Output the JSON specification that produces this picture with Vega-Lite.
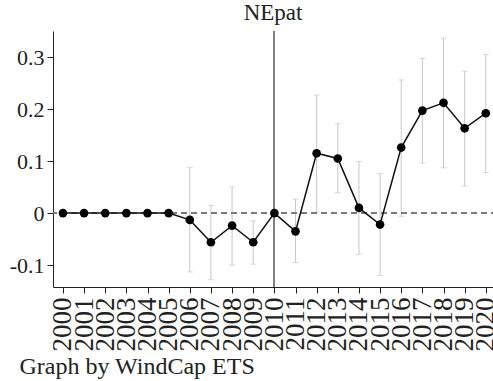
{
  "$schema": "https://vega.github.io/schema/vega-lite/v6.json",
  "width": 444,
  "height": 256,
  "padding": {"left": 53, "top": 31, "right": 0, "bottom": 94},
  "autosize": {"type": "none"},
  "background": "white",
  "config": {
    "view": {"stroke": null},
    "font": "Times New Roman, Liberation Serif, serif",
    "axis": {"grid": false, "domainColor": "#222", "tickColor": "#222", "labelColor": "#222", "labelFont": "Times New Roman, Liberation Serif, serif", "titleFont": "Times New Roman, Liberation Serif, serif"}
  },
  "title": {"text": "NEpat", "font": "Times New Roman, Liberation Serif, serif", "fontSize": 23, "fontWeight": "normal", "color": "#222", "anchor": "middle", "offset": 5, "dx": -2},
  "data": {"values": [
    {"year": 2000, "b": 0, "lo": null, "hi": null},
    {"year": 2001, "b": 0, "lo": null, "hi": null},
    {"year": 2002, "b": 0, "lo": null, "hi": null},
    {"year": 2003, "b": 0, "lo": null, "hi": null},
    {"year": 2004, "b": 0, "lo": null, "hi": null},
    {"year": 2005, "b": 0, "lo": null, "hi": null},
    {"year": 2006, "b": -0.013, "lo": -0.113, "hi": 0.088},
    {"year": 2007, "b": -0.056, "lo": -0.128, "hi": 0.015},
    {"year": 2008, "b": -0.024, "lo": -0.1, "hi": 0.05},
    {"year": 2009, "b": -0.056, "lo": -0.098, "hi": -0.015},
    {"year": 2010, "b": 0, "lo": null, "hi": null},
    {"year": 2011, "b": -0.035, "lo": -0.095, "hi": 0.027},
    {"year": 2012, "b": 0.115, "lo": 0.002, "hi": 0.227},
    {"year": 2013, "b": 0.105, "lo": 0.039, "hi": 0.172},
    {"year": 2014, "b": 0.01, "lo": -0.079, "hi": 0.099},
    {"year": 2015, "b": -0.022, "lo": -0.12, "hi": 0.076},
    {"year": 2016, "b": 0.126, "lo": -0.006, "hi": 0.256},
    {"year": 2017, "b": 0.197, "lo": 0.096, "hi": 0.297},
    {"year": 2018, "b": 0.212, "lo": 0.087, "hi": 0.336},
    {"year": 2019, "b": 0.163, "lo": 0.052, "hi": 0.273},
    {"year": 2020, "b": 0.192, "lo": 0.078, "hi": 0.305}
  ]},
  "encoding": {
    "x": {
      "field": "year", "type": "quantitative",
      "scale": {"domain": [1999.53, 2020.53], "nice": false, "zero": false},
      "axis": {
        "values": [2000,2001,2002,2003,2004,2005,2006,2007,2008,2009,2010,2011,2012,2013,2014,2015,2016,2017,2018,2019,2020],
        "format": "d", "labelAngle": -90, "labelFontSize": 27, "labelPadding": 4, "tickSize": 6,
        "labelOverlap": false, "labelBound": false, "labelFlush": false,
        "title": "Graph by WindCap ETS", "titleFontSize": 24, "titleFontWeight": "normal", "titleColor": "#222",
        "titleAnchor": "start", "titleAlign": "left", "titleX": -34, "titleY": 86, "titleBaseline": "alphabetic"
      }
    }
  },
  "layer": [
    {
      "mark": {"type": "rule", "color": "#c8c8c8", "strokeWidth": 1},
      "encoding": {
        "y": {"field": "lo", "type": "quantitative"},
        "y2": {"field": "hi"}
      }
    },
    {
      "mark": {"type": "tick", "color": "#c8c8c8", "thickness": 1, "size": 6, "orient": "horizontal"},
      "encoding": {"y": {"field": "lo", "type": "quantitative"}}
    },
    {
      "mark": {"type": "tick", "color": "#c8c8c8", "thickness": 1, "size": 6, "orient": "horizontal"},
      "encoding": {"y": {"field": "hi", "type": "quantitative"}}
    },
    {
      "mark": {"type": "rule", "color": "#7a7a7a", "strokeWidth": 1.5, "strokeDash": [6, 4]},
      "encoding": {"y": {"datum": 0, "type": "quantitative"}, "x": null}
    },
    {
      "mark": {"type": "rule", "color": "#808080", "strokeWidth": 1.2},
      "encoding": {"x": {"datum": 2010, "type": "quantitative"}}
    },
    {
      "mark": {"type": "line", "color": "#111", "strokeWidth": 1.5},
      "encoding": {"y": {"field": "b", "type": "quantitative"}}
    },
    {
      "mark": {"type": "point", "filled": true, "color": "#000", "opacity": 1, "size": 75},
      "encoding": {
        "y": {
          "field": "b", "type": "quantitative",
          "scale": {"domain": [-0.142, 0.35], "nice": false, "zero": false},
          "axis": {
            "values": [-0.1, 0, 0.1, 0.2, 0.3],
            "labelExpr": "datum.value == 0 ? '0' : toString(round(datum.value*10)/10)",
            "labelFontSize": 22, "tickSize": 6, "labelPadding": 3, "title": null
          }
        }
      }
    }
  ]
}
